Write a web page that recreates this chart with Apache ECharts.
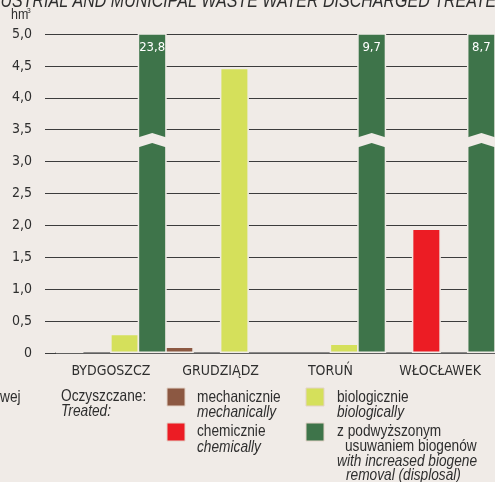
<!DOCTYPE html>
<html>
<head>
<meta charset="utf-8">
<script src="https://cdn.jsdelivr.net/npm/echarts@6/dist/echarts.min.js"></script>
<style>
html,body{margin:0;padding:0;background:#f0ebe7;}
#c{width:495px;height:482px;}
</style>
</head>
<body>
<div id="c"></div>
<script>
// ---- data ----
const categories = ['BYDGOSZCZ', 'GRUDZIĄDZ', 'TORUŃ', 'WŁOCŁAWEK'];
const mechanical = [0.02, 0.1, null, null];
const chemical = [null, null, null, 1.95];
const biological = [0.3, 4.47, 0.15, null];
const increasedRemoval = [23.8, null, 9.7, 8.7];
const seriesNames = ['mechanicznie', 'chemicznie', 'biologicznie', 'z podwyższonym usuwaniem biogenów'];
const yMin = 0, yMax = 5, yStep = 0.5;

// ---- styles ----
const FONT = "'DejaVu Sans Condensed','Liberation Sans',sans-serif";
const GFONT = "'Liberation Sans',Arial,sans-serif";
const SX = 0.83;
const BG = '#f0ebe7';
const TXT = '#2e2e2e';
const colors = ['#8c5842', '#ec1c24', '#d5e05b', '#3e744a'];
const GRID = '#3c3c3c';

const fmt = v => v === 0 ? '0' : v.toFixed(1).replace('.', ',');

const chart = echarts.init(document.getElementById('c'), null, {renderer: 'canvas'});

function barSeries(name, data, color, extra) {
  return Object.assign({
    type: 'bar',
    name: name,
    data: data,
    barWidth: 29,
    barGap: '-5%',
    barCategoryGap: 0,
    clip: true,
    itemStyle: {color: color, borderColor: BG, borderWidth: 1.5},
    emphasis: {disabled: true}
  }, extra || {});
}

function txt(x, y, s, size, italic) {
  return {
    type: 'text', x: x, y: y, scaleX: SX, silent: true, z: 100,
    style: {
      text: s, fill: TXT,
      font: (italic ? 'italic ' : '') + size + 'px ' + GFONT,
      verticalAlign: 'middle', textVerticalAlign: 'middle'
    }
  };
}
function box(x, y, color) {
  return {
    type: 'rect', x: x, y: y, silent: true, z: 100,
    shape: {x: 0, y: 0, width: 18, height: 18},
    style: {fill: color, stroke: '#e3d3c8', lineWidth: 1}
  };
}

const LS = 16.5;
const legendGraphics = [
  txt(-27, 2, 'INDUSTRIAL AND MUNICIPAL WASTE WATER DISCHARGED TREATED', 19.3, true),
  txt(11, 15, 'hm', 15, false),
  txt(27, 11, '3', 8, false),
  txt(0, 397, 'wej', LS, false),
  txt(61, 396, 'Oczyszczane:', LS, false),
  txt(61, 411, 'Treated:', LS, true),
  box(167, 388, colors[0]),
  txt(197, 397, 'mechanicznie', LS, false),
  txt(197, 412, 'mechanically', LS, true),
  box(167, 423, colors[1]),
  txt(197, 431, 'chemicznie', LS, false),
  txt(197, 447, 'chemically', LS, true),
  box(306, 388, colors[2]),
  txt(337, 397, 'biologicznie', LS, false),
  txt(337, 412, 'biologically', LS, true),
  box(306, 423, colors[3]),
  txt(337, 431, 'z podwyższonym', LS, false),
  txt(345, 446, 'usuwaniem biogenów', LS, false),
  txt(337, 461, 'with increased biogene', LS, true),
  txt(346, 475, 'removal (displosal)', LS, true)
];

const option = {
  animation: false,
  backgroundColor: BG,
  textStyle: {fontFamily: FONT},
  grid: {left: 56, right: -1, top: 34, bottom: 129, containLabel: false},
  xAxis: {
    type: 'category',
    data: categories,
    boundaryGap: true,
    axisLine: {show: true, lineStyle: {color: '#6a6a6a', width: 1.5}},
    axisTick: {show: false},
    axisLabel: {color: TXT, fontSize: 14, fontFamily: FONT, margin: 11, interval: 0}
  },
  yAxis: {
    type: 'value',
    min: yMin, max: yMax, interval: yStep,
    axisLine: {show: false},
    axisTick: {show: true, inside: false, length: 11, lineStyle: {color: GRID, width: 1}},
    splitLine: {show: true, lineStyle: {color: GRID, width: 1}},
    axisLabel: {color: TXT, fontSize: 14, fontFamily: FONT, margin: 24, formatter: fmt}
  },
  series: [
    barSeries(seriesNames[0], mechanical, colors[0]),
    barSeries(seriesNames[1], chemical, colors[1]),
    barSeries(seriesNames[2], biological, colors[2]),
    barSeries(seriesNames[3], increasedRemoval, colors[3], {
      label: {
        show: true, position: 'insideTop', distance: 8,
        color: '#ffffff', fontSize: 13, fontFamily: FONT,
        formatter: p => (p.value != null && p.value > yMax) ? fmt(p.value) : ''
      }
    })
  ],
  graphic: legendGraphics
};

chart.setOption(option);

// break marks on bars that exceed the axis maximum
const breakValue = 3.34;
const by = chart.convertToPixel({yAxisIndex: 0}, breakValue);
const barData = chart.getModel().getSeriesByIndex(3).getData();
const breakGraphics = [];
increasedRemoval.forEach((v, i) => {
  if (v != null && v > yMax) {
    const l = barData.getItemLayout(i);
    if (!l) return;
    const x0 = l.x - 1.5, x1 = l.x + l.width + 1.5, xc = l.x + l.width / 2;
    breakGraphics.push({
      type: 'polygon', silent: true, z: 50,
      shape: {points: [[x0, by - 2], [xc, by - 7], [x1, by - 2], [x1, by + 8], [xc, by + 3], [x0, by + 8]]},
      style: {fill: BG}
    });
  }
});
chart.setOption({graphic: legendGraphics.concat(breakGraphics)});
</script>
</body>
</html>
